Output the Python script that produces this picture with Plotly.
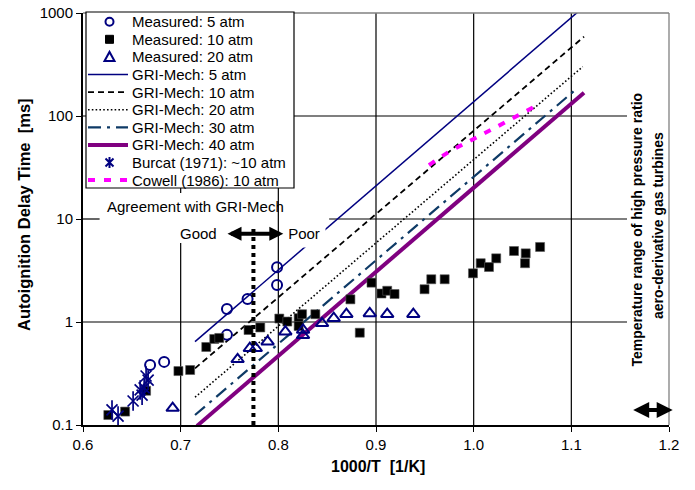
import plotly.graph_objects as go

FONT = "Liberation Sans, Arial, sans-serif"

# ---------------- data ----------------
series_names = ["Measured: 5 atm", "Measured: 10 atm", "Measured: 20 atm",
                "GRI-Mech: 5 atm", "GRI-Mech: 10 atm", "GRI-Mech: 20 atm",
                "GRI-Mech: 30 atm", "GRI-Mech: 40 atm",
                "Burcat (1971): ~10 atm", "Cowell (1986): 10 atm"]

# Measured: 5 atm (open circles)
m5_x = [0.6687, 0.6831, 0.7474, 0.7474, 0.7685, 0.7987, 0.7987]
m5_y = [0.383, 0.41, 0.75, 1.34, 1.67, 2.29, 3.40]

# Measured: 10 atm (filled squares)
m10_x = [0.6259, 0.6431, 0.6646, 0.6977, 0.7097, 0.7262, 0.7344, 0.7395,
         0.7695, 0.7815, 0.8010, 0.8092, 0.8208, 0.8243, 0.8208, 0.8379,
         0.8738, 0.8834, 0.8954, 0.9056, 0.9115, 0.9190, 0.9497, 0.9566,
         0.9703, 0.9993, 1.0072, 1.0157, 1.0231, 1.0413, 1.0533, 1.0526,
         1.0680]
m10_y = [0.125, 0.135, 0.215, 0.334, 0.342, 0.572, 0.684, 0.70,
         0.836, 0.885, 1.08, 1.01, 1.09, 1.19, 0.915, 1.19,
         1.66, 0.787, 2.41, 1.89, 2.01, 1.87, 2.08, 2.60,
         2.60, 2.97, 3.72, 3.42, 4.15, 4.89, 4.64, 3.72,
         5.35]

# Measured: 20 atm (open triangles)
m20_x = [0.6918, 0.7583, 0.7708, 0.7769, 0.7890, 0.8072, 0.8253, 0.8253,
         0.8448, 0.8567, 0.8697, 0.8936, 0.9115, 0.9382]
m20_y = [0.146, 0.434, 0.556, 0.556, 0.644, 0.805, 0.836, 0.743,
         0.97, 1.09, 1.19, 1.21, 1.19, 1.19]

# Burcat (1971): ~10 atm (asterisks)
burcat_x = [0.6297, 0.6359, 0.6513, 0.6585, 0.6626, 0.6605, 0.6667, 0.6646]
burcat_y = [0.140, 0.122, 0.171, 0.219, 0.229, 0.195, 0.273, 0.299]

# Cowell (1986): 10 atm
cowell_x = [0.9542, 0.9747, 1.0208, 1.0653]
cowell_y = [33.4, 45.0, 75.9, 128.0]

# GRI-Mech predictions (end points of the straight model lines)
gri5_x = [0.7147, 1.1122]
gri5_y = [0.644, 1136.0]
gri10_x = [0.7147, 1.1130]
gri10_y = [0.355, 589.0]
gri20_x = [0.7147, 1.1116]
gri20_y = [0.186, 301.0]
gri30_x = [0.7147, 1.1061]
gri30_y = [0.125, 186.0]
gri40_x = [0.7167, 1.1130]
gri40_y = [0.098, 168.0]

x_ticks = [0.6, 0.7, 0.8, 0.9, 1.0, 1.1, 1.2]
x_tick_text = ["0.6", "0.7", "0.8", "0.9", "1.0", "1.1", "1.2"]
y_ticks = [0.1, 1, 10, 100, 1000]
y_tick_text = ["0.1", "1", "10", "100", "1000"]

# ---------------- styles ----------------
NAVY = "#000080"
TEAL = "#0E3A66"
PURPLE = "#800080"
MAGENTA = "#FF00FF"

line_styles = {
    "GRI-Mech: 5 atm": dict(color=NAVY, width=1.5),
    "GRI-Mech: 10 atm": dict(color="black", width=1.8, dash="6px,4px"),
    "GRI-Mech: 20 atm": dict(color="black", width=1.6, dash="1.6px,2.2px"),
    "GRI-Mech: 30 atm": dict(color=TEAL, width=2.2, dash="13px,6px,3px,6px"),
    "GRI-Mech: 40 atm": dict(color=PURPLE, width=4),
    "Cowell (1986): 10 atm": dict(color=MAGENTA, width=4, dash="7px,9px"),
}

# figure geometry (pixels)
W, H = 695, 490
ML, MR, MT, MB = 83, 26, 13, 65
PW, PH = W - ML - MR, H - MT - MB


def PX(px):
    return (px - ML) / PW


def PY(py):
    return (H - MB - py) / PH


fig = go.Figure()

line_data = [(gri5_x, gri5_y, "GRI-Mech: 5 atm"), (gri10_x, gri10_y, "GRI-Mech: 10 atm"),
             (gri20_x, gri20_y, "GRI-Mech: 20 atm"), (gri30_x, gri30_y, "GRI-Mech: 30 atm"),
             (gri40_x, gri40_y, "GRI-Mech: 40 atm"),
             (cowell_x, cowell_y, "Cowell (1986): 10 atm")]
for xs, ys, nm in line_data:
    fig.add_trace(go.Scatter(x=xs, y=ys, mode="lines", name=nm, line=line_styles[nm]))

fig.add_trace(go.Scatter(x=m5_x, y=m5_y, mode="markers", name="Measured: 5 atm",
                         marker=dict(symbol="circle-open", size=10, color=NAVY,
                                     line=dict(width=2, color=NAVY))))
fig.add_trace(go.Scatter(x=m10_x, y=m10_y, mode="markers", name="Measured: 10 atm",
                         marker=dict(symbol="square", size=9, color="black",
                                     line=dict(width=0.6, color="#555555"))))
fig.add_trace(go.Scatter(x=m20_x, y=m20_y, mode="markers", name="Measured: 20 atm",
                         marker=dict(symbol="triangle-up-open", size=11, color=NAVY,
                                     line=dict(width=2, color=NAVY))))
fig.add_trace(go.Scatter(x=burcat_x, y=burcat_y, mode="markers", name="Burcat (1971): ~10 atm",
                         marker=dict(symbol="x-thin-open", size=11, color=NAVY,
                                     line=dict(width=1.7, color=NAVY))))
fig.add_trace(go.Scatter(x=burcat_x, y=burcat_y, mode="markers", name="Burcat (1971): ~10 atm",
                         marker=dict(symbol="line-ns-open", size=14, color=NAVY,
                                     line=dict(width=1.7, color=NAVY))))

# ---------------- grid lines (as shapes) ----------------
shapes = []
GX_END = 1.157
GRID = dict(color="black", width=1.2)
for v in [1, 100]:
    shapes.append(dict(type="line", xref="x", yref="y", x0=0.6, x1=GX_END, y0=v, y1=v,
                       line=GRID, layer="below"))
shapes.append(dict(type="line", xref="x", yref="y", x0=0.6, x1=0.617, y0=10, y1=10,
                   line=GRID, layer="below"))
shapes.append(dict(type="line", xref="x", yref="y", x0=0.852, x1=GX_END, y0=10, y1=10,
                   line=GRID, layer="below"))
for v in [0.8, 0.9, 1.0, 1.1]:
    shapes.append(dict(type="line", xref="x", yref="y", x0=v, x1=v, y0=0.1, y1=1000,
                       line=GRID, layer="below"))
shapes.append(dict(type="line", xref="x", yref="y", x0=0.7, x1=0.7, y0=0.1, y1=5.85,
                   line=GRID, layer="below"))
shapes.append(dict(type="line", xref="x", yref="y", x0=0.7, x1=0.7, y0=17.9, y1=1000,
                   line=GRID, layer="below"))
# plot frame top/right (grey)
shapes.append(dict(type="line", xref="paper", yref="paper", x0=0, x1=1, y0=1, y1=1,
                   line=dict(color="#808080", width=1.3)))
shapes.append(dict(type="line", xref="paper", yref="paper", x0=1, x1=1, y0=0, y1=1,
                   line=dict(color="#808080", width=1.3)))
# thick dotted vertical marker line
shapes.append(dict(type="line", xref="x", yref="y", x0=0.7745, x1=0.7745, y0=0.1, y1=8.4,
                   line=dict(color="black", width=4, dash="dot")))

# ---------------- legend (drawn as a box with keys and labels) ----------------
LEG_X0, LEG_X1, LEG_Y0, LEG_Y1 = 86, 294, 12, 188
shapes.append(dict(type="rect", xref="paper", yref="paper",
                   x0=PX(LEG_X0), x1=PX(LEG_X1), y0=PY(LEG_Y1), y1=PY(LEG_Y0),
                   fillcolor="white", line=dict(color="black", width=1.2), layer="above"))
row_y = [21.7 + 17.6 * i for i in range(len(series_names))]
KEY_X = 109.5
annotations = []
for nm, ry in zip(series_names, row_y):
    annotations.append(dict(text=nm, xref="paper", yref="paper", x=PX(130), y=PY(ry),
                            xanchor="left", yanchor="middle", showarrow=False,
                            font=dict(family=FONT, size=15, color="black")))
    if nm in line_styles:
        shapes.append(dict(type="line", xref="paper", yref="paper",
                           x0=PX(88), x1=PX(128), y0=PY(ry), y1=PY(ry),
                           line=line_styles[nm], layer="above"))


def key_shape(kind, ry, **kw):
    d = dict(type=kind, xref="paper", yref="paper", xsizemode="pixel", ysizemode="pixel",
             xanchor=PX(KEY_X), yanchor=PY(ry), layer="above")
    d.update(kw)
    return d


shapes.append(key_shape("circle", row_y[0], x0=-4, x1=4, y0=-4, y1=4,
                        line=dict(color=NAVY, width=2)))
shapes.append(key_shape("rect", row_y[1], x0=-4, x1=4, y0=-4, y1=4,
                        fillcolor="black", line=dict(color="black", width=1)))
shapes.append(key_shape("path", row_y[2], path="M-5,-4L5,-4L0,5Z",
                        line=dict(color=NAVY, width=2)))
shapes.append(key_shape("path", row_y[8], path="M-4,-4L4,4M-4,4L4,-4M0,-5.5L0,5.5",
                        line=dict(color=NAVY, width=2)))

# ---------------- annotations ----------------
annotations += [
    dict(text="Agreement with GRI-Mech", xref="x", yref="y", x=0.7149, y=1.126,
         showarrow=False, font=dict(family=FONT, size=15, color="black")),
    dict(text="Good", xref="x", yref="y", x=0.718, y=0.862,
         showarrow=False, font=dict(family=FONT, size=15, color="black")),
    dict(text="Poor", xref="x", yref="y", x=0.8265, y=0.862, width=38, height=24,
         bgcolor="white", borderpad=2,
         showarrow=False, font=dict(family=FONT, size=15, color="black")),
    # double arrow Good <-> Poor
    dict(text="", xref="x", yref="y", x=0.8051, y=0.858, axref="x", ayref="y",
         ax=0.7464, ay=0.858, showarrow=True, arrowside="end+start",
         arrowhead=2, startarrowhead=2, arrowsize=0.7, startarrowsize=0.7,
         arrowwidth=4, arrowcolor="black"),
    # double arrow bottom right
    dict(text="", xref="paper", yref="paper", x=PX(672.7), y=PY(410), ax=-41, ay=0,
         showarrow=True, arrowside="end+start", arrowhead=2, startarrowhead=2,
         arrowsize=0.8, startarrowsize=0.8, arrowwidth=4, arrowcolor="black"),
    # rotated right-hand texts
    dict(text="<b>Temperature range of high pressure ratio</b>", xref="paper", yref="paper",
         x=PX(637), y=PY(229.5), textangle=-90, showarrow=False,
         xanchor="center", yanchor="middle",
         font=dict(family=FONT, size=14, color="black")),
    dict(text="<b>aero-derivative gas turbines</b>", xref="paper", yref="paper",
         x=PX(658), y=PY(226), textangle=-90, showarrow=False,
         xanchor="center", yanchor="middle",
         font=dict(family=FONT, size=14, color="black")),
    # axis titles
    dict(text="<b>1000/T\u00a0 [1/K]</b>", xref="paper", yref="paper",
         x=PX(378), y=PY(466), showarrow=False,
         xanchor="center", yanchor="middle",
         font=dict(family=FONT, size=16, color="black")),
    dict(text="<b>Autoignition Delay Time\u00a0 [ms]</b>", xref="paper", yref="paper",
         x=PX(24), y=PY(215), textangle=-90, showarrow=False,
         xanchor="center", yanchor="middle",
         font=dict(family=FONT, size=16.5, color="black")),
]

fig.update_layout(
    width=W, height=H,
    margin=dict(l=ML, r=MR, t=MT, b=MB, autoexpand=False),
    paper_bgcolor="white", plot_bgcolor="white",
    font=dict(family=FONT, size=15, color="black"),
    showlegend=False,
    shapes=shapes,
    annotations=annotations,
)
fig.update_xaxes(range=[0.6, 1.2], tickvals=x_ticks, ticktext=x_tick_text,
                 showgrid=False, zeroline=False, showline=True, linecolor="black",
                 linewidth=2, ticks="outside", ticklen=5, tickcolor="black",
                 automargin=False,
                 tickfont=dict(family=FONT, size=15, color="black"))
fig.update_yaxes(type="log", range=[-1, 3], tickvals=y_ticks, ticktext=y_tick_text,
                 showgrid=False, zeroline=False, showline=True, linecolor="black",
                 linewidth=2, ticks="outside", ticklen=5, tickcolor="black",
                 automargin=False,
                 tickfont=dict(family=FONT, size=15, color="black"))

fig.write_html("out.html", config={"displayModeBar": False},
               post_script="document.body.style.margin='0px';")
